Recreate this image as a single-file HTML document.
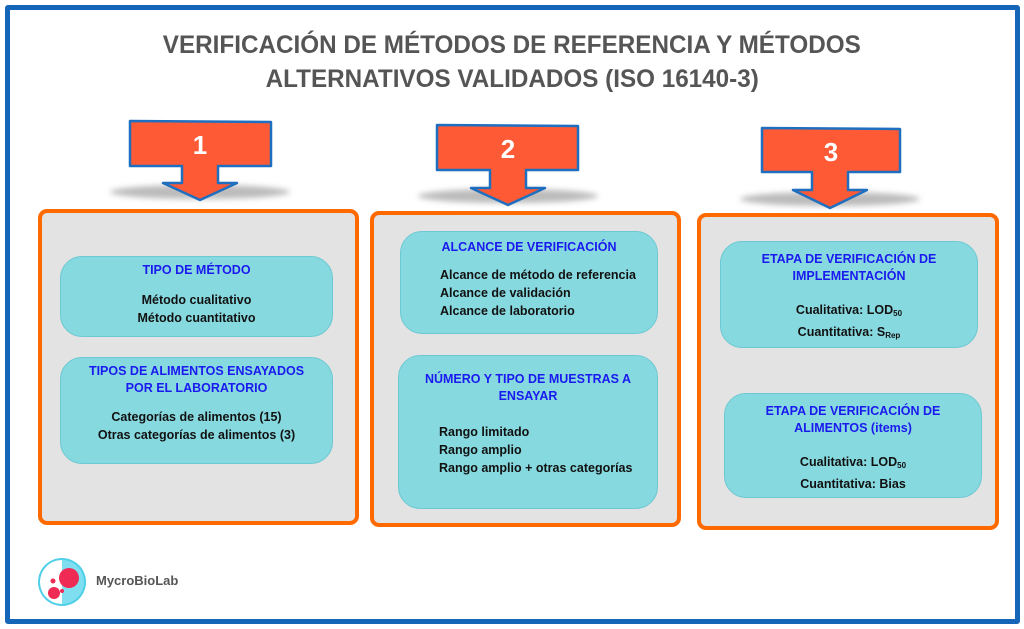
<!DOCTYPE html>
<html><head><meta charset="utf-8"><style>
body{margin:0;width:1024px;height:629px;background:#fff;position:relative;overflow:hidden;font-family:"Liberation Sans",sans-serif}
.a{position:absolute}
.frame{left:5px;top:5px;width:1005px;height:609px;border:5px solid #1565b8;border-radius:3px}
.t{left:0;width:1024px;text-align:center;color:#555;font-weight:bold;font-size:25px;white-space:nowrap}
.t span{display:inline-block;transform:scaleX(0.97)}
.panel{background:#e3e3e3;border:4px solid #ff6a00;border-radius:9px;box-sizing:border-box}
.box{background:#87d9e0;border:1.5px solid #6cc8d2;border-radius:22px;box-sizing:border-box;font-weight:bold;font-size:12.5px;color:#111}
.h{color:#1a1aee;text-align:center;line-height:17px}
.c{text-align:center;line-height:18px}
.l{line-height:18px}
sub{font-size:8px;vertical-align:-2px}
</style></head><body>
<div class="a frame"></div>
<div class="a t" style="top:31px"><span>VERIFICACIÓN DE MÉTODOS DE REFERENCIA Y MÉTODOS</span></div>
<div class="a t" style="top:65px"><span>ALTERNATIVOS VALIDADOS (ISO 16140-3)</span></div>

<svg class="a" style="left:0;top:0" width="1024" height="629">
<defs><filter id="s" x="-20%" y="-50%" width="140%" height="200%"><feGaussianBlur stdDeviation="3"/></filter></defs>
<ellipse cx="200" cy="192" rx="90" ry="7" fill="#bbb" filter="url(#s)"/>
<ellipse cx="508" cy="196" rx="90" ry="7" fill="#bbb" filter="url(#s)"/>
<ellipse cx="830" cy="199" rx="90" ry="7" fill="#bbb" filter="url(#s)"/>
<polygon points="130,121 271,122 271,166 218,166 218,183 237,183 200,200 163,183 182,183 182,166 130,166" fill="#ff5a36" stroke="#1f6fc0" stroke-width="2.5" stroke-linejoin="round"/>
<polygon points="437,125 578,126 578,170 526,170 526,188 545,188 508,205 471,188 490,188 490,170 437,170" fill="#ff5a36" stroke="#1f6fc0" stroke-width="2.5" stroke-linejoin="round"/>
<polygon points="762,128 900,129 900,172 848,172 848,190 867,190 830,208 793,190 812,190 812,172 762,172" fill="#ff5a36" stroke="#1f6fc0" stroke-width="2.5" stroke-linejoin="round"/>
<text x="200" y="154" font-family="Liberation Sans" font-weight="bold" font-size="26" fill="#fff" text-anchor="middle">1</text>
<text x="508" y="158" font-family="Liberation Sans" font-weight="bold" font-size="26" fill="#fff" text-anchor="middle">2</text>
<text x="831" y="161" font-family="Liberation Sans" font-weight="bold" font-size="26" fill="#fff" text-anchor="middle">3</text>
</svg>

<div class="a panel" style="left:38px;top:209px;width:321px;height:316px"></div>
<div class="a panel" style="left:370px;top:211px;width:311px;height:316px"></div>
<div class="a panel" style="left:697px;top:213px;width:302px;height:317px"></div>

<div class="a box" style="left:60px;top:256px;width:273px;height:81px">
<div class="h" style="margin-top:5px">TIPO DE MÉTODO</div>
<div class="c" style="margin-top:12px">Método cualitativo<br>Método cuantitativo</div></div>

<div class="a box" style="left:60px;top:357px;width:273px;height:107px">
<div class="h" style="margin-top:5px">TIPOS DE ALIMENTOS ENSAYADOS<br>POR EL LABORATORIO</div>
<div class="c" style="margin-top:11px">Categorías de alimentos (15)<br>Otras categorías de alimentos (3)</div></div>

<div class="a box" style="left:400px;top:231px;width:258px;height:103px">
<div class="h" style="margin-top:7px">ALCANCE DE VERIFICACIÓN</div>
<div class="l" style="margin-top:10px;margin-left:39px">Alcance de método de referencia<br>Alcance de validación<br>Alcance de laboratorio</div></div>

<div class="a box" style="left:398px;top:355px;width:260px;height:154px">
<div class="h" style="margin-top:15px">NÚMERO Y TIPO DE MUESTRAS A<br>ENSAYAR</div>
<div class="l" style="margin-top:18px;margin-left:40px">Rango limitado<br>Rango amplio<br>Rango amplio + otras categorías</div></div>

<div class="a box" style="left:720px;top:241px;width:258px;height:107px">
<div class="h" style="margin-top:9px">ETAPA DE VERIFICACIÓN DE<br>IMPLEMENTACIÓN</div>
<div class="c" style="margin-top:16px">Cualitativa: LOD<sub>50</sub><br>Cuantitativa: S<sub>Rep</sub></div></div>

<div class="a box" style="left:724px;top:393px;width:258px;height:105px">
<div class="h" style="margin-top:9px">ETAPA DE VERIFICACIÓN DE<br>ALIMENTOS (items)</div>
<div class="c" style="margin-top:16px">Cualitativa: LOD<sub>50</sub><br>Cuantitativa: Bias</div></div>

<svg class="a" style="left:36px;top:556px" width="54" height="54">
<circle cx="26" cy="26" r="24" fill="#4fd0e8"/>
<path d="M26 4 A22 22 0 0 0 26 48 Z" fill="#fff"/>
<path d="M26 4 A22 22 0 0 1 26 48 Z" fill="#7fdff0"/>
<circle cx="33" cy="22" r="10" fill="#ee2a55"/>
<circle cx="18" cy="37" r="6" fill="#ee2a55"/>
<circle cx="17" cy="25" r="2.5" fill="#ee2a55"/>
<circle cx="26" cy="35" r="2" fill="#ee2a55"/>
</svg>
<div class="a" style="left:96px;top:573px;font-weight:bold;font-size:13px;color:#555">MycroBioLab</div>
</body></html>
